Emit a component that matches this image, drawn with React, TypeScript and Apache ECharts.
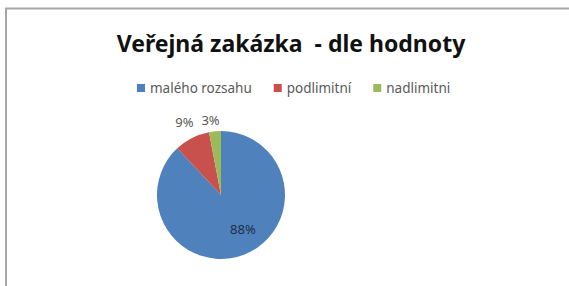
import React, { useEffect, useRef } from "react";
import * as echarts from "echarts";

const titleText = "Veřejná zakázka  - dle hodnoty";
const categories = ["malého rozsahu", "podlimitní", "nadlimitni"];
const values = [88, 9, 3];
const colors = ["#4F81BD", "#C8504D", "#9BBB59"];

export default function App() {
  const ref = useRef<HTMLDivElement>(null);
  useEffect(() => {
    if (!ref.current) return;
    const chart = echarts.init(ref.current, null, { renderer: "svg" });
    const labelShift: Record<number, [number, number]> = {
      0: [9, 1],
      1: [13, -4],
      2: [11, 3],
    };
    chart.setOption({
      animation: false,
      backgroundColor: "#ffffff",
      graphic: [
        {
          type: "rect",
          shape: { x: 6, y: 8.5, width: 700, height: 400 },
          style: { fill: "none", stroke: "#a6a6a6", lineWidth: 2 },
          silent: true,
        },
        {
          type: "text",
          x: 291,
          y: 43,
          style: {
            text: titleText,
            fontFamily: "Noto Sans",
            fontWeight: "bold",
            fontSize: 23,
            fill: "#111111",
            align: "center",
            verticalAlign: "middle",
          },
        },
      ],
      legend: {
        left: 137,
        top: 81,
        padding: 0,
        itemWidth: 8,
        itemHeight: 8,
        itemGap: 22,
        icon: "rect",
        textStyle: {
          fontFamily: "Noto Sans",
          fontSize: 13.5,
          color: "#595959",
        },
        data: categories,
      },
      series: [
        {
          type: "pie",
          center: [221, 195],
          radius: 64,
          startAngle: 90,
          clockwise: true,
          avoidLabelOverlap: false,
          data: categories.map((name, i) => ({
            name,
            value: values[i],
            itemStyle: { color: colors[i] },
            label:
              i === 0
                ? { position: "inside", color: "#1f2f4a" }
                : { position: "outside", color: "#595959" },
          })),
          label: {
            formatter: "{c}%",
            fontFamily: "Noto Sans",
            fontSize: 13,
          },
          labelLine: { show: false, length: 14, length2: 0 },
          labelLayout: (p: any) => {
            const s = labelShift[p.dataIndex] || [0, 0];
            return { dx: s[0], dy: s[1] };
          },
        },
      ],
    });
    return () => chart.dispose();
  }, []);
  return (
    <div
      ref={ref}
      style={{ position: "absolute", left: 0, top: 0, width: 569, height: 286 }}
    />
  );
}
